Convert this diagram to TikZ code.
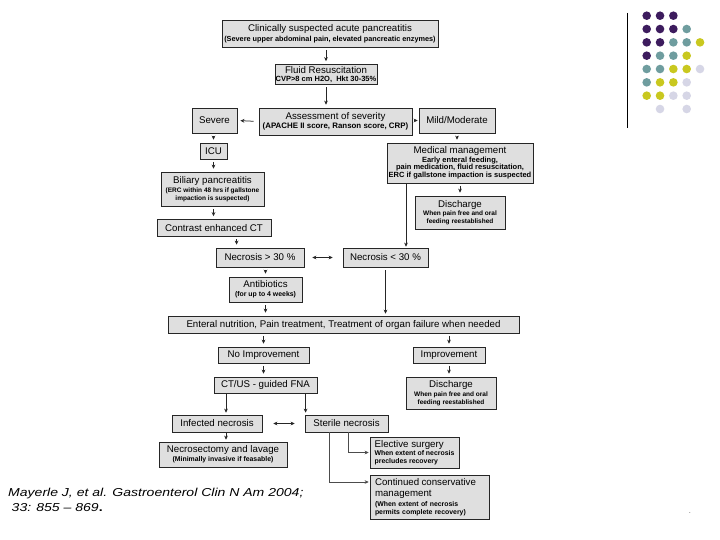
\documentclass[tikz,border=0pt]{standalone}
\usepackage{fontspec}
\setmainfont{Liberation Sans}
\newfontfamily\citefont[FakeStretch=1.22]{Liberation Sans}
\usetikzlibrary{arrows.meta,calc}
\definecolor{boxfill}{HTML}{DFDFDF}
\definecolor{dpurple}{HTML}{3D1C5E}
\definecolor{dteal}{HTML}{6F9D9F}
\definecolor{dyellow}{HTML}{C9C81F}
\definecolor{dlav}{HTML}{D6D6E6}
\newcommand\mainsz{\fontsize{9.7}{11}\selectfont\mdseries}
\newcommand\subat[1]{\fontsize{#1}{7.8}\selectfont\bfseries}
\tikzset{
  box/.style={draw=black!85, fill=boxfill, line width=0.8pt, inner sep=0pt, align=center, font=\mainsz},
  arr/.style={draw=black!85, line width=0.75pt, -{Stealth[length=4pt,width=3.8pt]}, shorten <=2.5pt, shorten >=3pt},
  dbl/.style={draw=black!85, line width=0.75pt, {Stealth[length=4pt,width=3.8pt]}-{Stealth[length=4pt,width=3.8pt]}},
  elbow/.style={draw=black!70, line width=0.75pt, -{Stealth[length=4pt,width=3.8pt]}, shorten >=1pt}
}
\begin{document}
\begin{tikzpicture}[x=1pt,y=-1pt]
\useasboundingbox (0,0) rectangle (720,540);
\fill[white] (0,0) rectangle (720,540);

% boxes
\node[box, font=\subat{7.3}, minimum width=216pt, minimum height=27pt] (top) at (330,33.5)
  {{\mainsz Clinically suspected acute pancreatitis}\\[2pt](Severe upper abdominal pain, elevated pancreatic enzymes)};
\node[box, font=\subat{7.5}, minimum width=102pt, minimum height=20pt] (fluid) at (326,74.5)
  {{\mainsz Fluid Resuscitation}\\[0.5pt]CVP>8 cm H2O,\ \ Hkt 30-35\%};
\node[box, font=\subat{7.9}, minimum width=153pt, minimum height=27pt] (assess) at (335.5,121.5)
  {{\mainsz Assessment of severity}\\[1.5pt](APACHE II score, Ranson score, CRP)};
\node[box, minimum width=45pt, minimum height=25pt] (severe) at (214.5,120.5) {Severe};
\node[box, minimum width=76pt, minimum height=25pt] (mild) at (457,120.5) {Mild/Moderate};
\node[box, minimum width=27pt, minimum height=16pt] (icu) at (213.5,151) {ICU};
\node[box, font=\subat{7.5}, minimum width=146pt, minimum height=40pt] (med) at (460,163)
  {{\mainsz Medical management}\\[0.5pt]Early enteral feeding,\\pain medication, fluid resuscitation,\\ERC if gallstone impaction is suspected};
\node[box, font=\subat{6.5}, minimum width=103pt, minimum height=34pt] (biliary) at (212.5,189)
  {{\mainsz Biliary pancreatitis}\\[1pt](ERC within 48 hrs if gallstone\\impaction is suspected)};
\node[box, font=\subat{6.5}, minimum width=90pt, minimum height=33pt] (disc1) at (460,212.5)
  {{\mainsz Discharge}\\[1pt]When pain free and oral\\feeding reestablished};
\node[box, minimum width=114pt, minimum height=17pt] (ct) at (214,228) {Contrast enhanced CT};
\node[box, minimum width=88pt, minimum height=19pt] (nec30) at (260,257.5) {Necrosis > 30 \%};
\node[box, minimum width=85pt, minimum height=19pt] (nec30b) at (385.5,257.5) {Necrosis < 30 \%};
\node[box, font=\subat{6.9}, minimum width=73pt, minimum height=25pt] (anti) at (265.5,289.5)
  {{\mainsz Antibiotics}\\[1pt](for up to 4 weeks)};
\node[box, minimum width=351pt, minimum height=17pt] (enteral) at (343.5,324.5)
  {Enteral nutrition, Pain treatment, Treatment of organ failure when needed};
\node[box, minimum width=91pt, minimum height=16pt] (noimp) at (263.5,355) {No Improvement};
\node[box, minimum width=72pt, minimum height=16pt] (imp) at (449,355) {Improvement};
\node[box, minimum width=103pt, minimum height=16pt] (ctus) at (265.5,385) {CT/US - guided FNA};
\node[box, font=\subat{6.5}, minimum width=90pt, minimum height=32pt] (disc2) at (451,393)
  {{\mainsz Discharge}\\[1pt]When pain free and oral\\feeding reestablished};
\node[box, minimum width=90pt, minimum height=17pt] (infected) at (217,423.5) {Infected necrosis};
\node[box, minimum width=83pt, minimum height=17pt] (sterile) at (346.5,423.5) {Sterile necrosis};
\node[box, font=\subat{6.9}, minimum width=128pt, minimum height=25pt] (necrosect) at (223,454.5)
  {{\mainsz Necrosectomy and lavage}\\[1pt](Minimally invasive if feasable)};
\node[box, font=\subat{6.9}, align=left, minimum width=89pt, minimum height=31pt] (elective) at (414.5,452.5)
  {{\mainsz Elective surgery}\\[1pt]When extent of necrosis\\precludes recovery};
\node[box, font=\subat{6.9}, align=left, text width=109pt, inner xsep=5pt, minimum height=44pt] (continued) at (429.5,497)
  {{\mainsz Continued conservative}\\[4pt]{\mainsz management}\\[2pt](When extent of necrosis\\permits complete recovery)};

% helper coordinates
\coordinate (actn) at ([xshift=21pt]nec30.north west);
\coordinate (amed) at ([xshift=20.5pt]nec30b.north);
\coordinate (ainf) at ([xshift=9pt]infected.north);
\coordinate (aster) at ([xshift=1pt]sterile.north west);
\coordinate (anec) at ([xshift=3pt]necrosect.north);

% connectors
\draw[arr] (top.south -| fluid.north) -- (fluid.north);
\draw[arr] (fluid.south) -- (fluid.south |- assess.north);
\draw[arr, shorten <=5pt] (assess.west) -- (severe.east);
\draw[arr, shorten <=2pt, shorten >=1pt] (assess.east |- mild.east) -- (mild.west);
\draw[arr] (severe.south -| icu.north) -- (icu.north);
\draw[arr] (icu.south) -- (icu.south |- biliary.north);
\draw[arr] (icu.south |- biliary.south) -- (icu.south |- ct.north);
\draw[arr] (ct.south -| actn) -- (actn);
\draw[dbl, shorten <=8pt, shorten >=10pt] (nec30.east) -- (nec30b.west);
\draw[arr] (mild.south) -- (mild.south |- med.north);
\draw[arr] (med.south) -- (med.south |- disc1.north);
\draw[arr, shorten >=1pt, shorten <=1pt] (med.south -| amed) -- (amed);
\draw[arr] (nec30.south -| anti.north) -- (anti.north);
\draw[arr] (anti.south) -- (anti.south |- enteral.north);
\draw[arr, shorten >=2pt, shorten <=3pt] (nec30b.south) -- (nec30b.south |- enteral.north);
\draw[arr] (enteral.south -| noimp.north) -- (noimp.north);
\draw[arr] (enteral.south -| imp.north) -- (imp.north);
\draw[arr] (noimp.south) -- (noimp.south |- ctus.north);
\draw[arr] (imp.south) -- (imp.south |- disc2.north);
\draw[arr, shorten <=1pt, shorten >=2pt] (ctus.south -| ainf) -- (ainf);
\draw[arr, shorten <=1pt, shorten >=2pt] (ctus.south -| aster) -- (aster);
\draw[dbl, shorten <=11pt, shorten >=10pt] (infected.east) -- (sterile.west);
\draw[arr, shorten <=1pt, shorten >=2pt] (infected.south -| anec) -- (anec);
\draw[elbow] ([xshift=1.5pt]sterile.south) |- (elective.west);
\draw[elbow] ([xshift=-17.5pt]sterile.south) |- ([yshift=15pt]continued.west);

% citation
\node[anchor=base west, align=left, inner sep=0pt, font={\citefont\itshape\fontsize{11.5}{14.3}\selectfont}] (cite) at (8,511)
  {Mayerle J, et al. Gastroenterol Clin N Am 2004;\\\hspace*{3.5pt}33: 855 – 869{\upshape\bfseries .}};
\node[inner sep=0pt, font=\fontsize{6}{6}\selectfont] (dot) at (690,513.5) {.};

% decoration
\draw[black, line width=0.9pt] (627,13) -- (627,128);
\foreach \c/\r/\col in {
  1/1/dpurple,2/1/dpurple,3/1/dpurple,
  1/2/dpurple,2/2/dpurple,3/2/dpurple,4/2/dteal,
  1/3/dpurple,2/3/dpurple,3/3/dteal,4/3/dteal,5/3/dyellow,
  1/4/dpurple,2/4/dteal,3/4/dteal,4/4/dyellow,
  1/5/dteal,2/5/dteal,3/5/dyellow,4/5/dyellow,5/5/dlav,
  1/6/dteal,2/6/dyellow,3/6/dyellow,4/6/dlav,
  1/7/dyellow,2/7/dyellow,3/7/dlav,4/7/dlav,
  2/8/dlav,4/8/dlav}
  \fill[\col] ({646.7+13.33*(\c-1)},{15.7+13.33*(\r-1)}) circle (4.3pt);
\end{tikzpicture}
\end{document}
